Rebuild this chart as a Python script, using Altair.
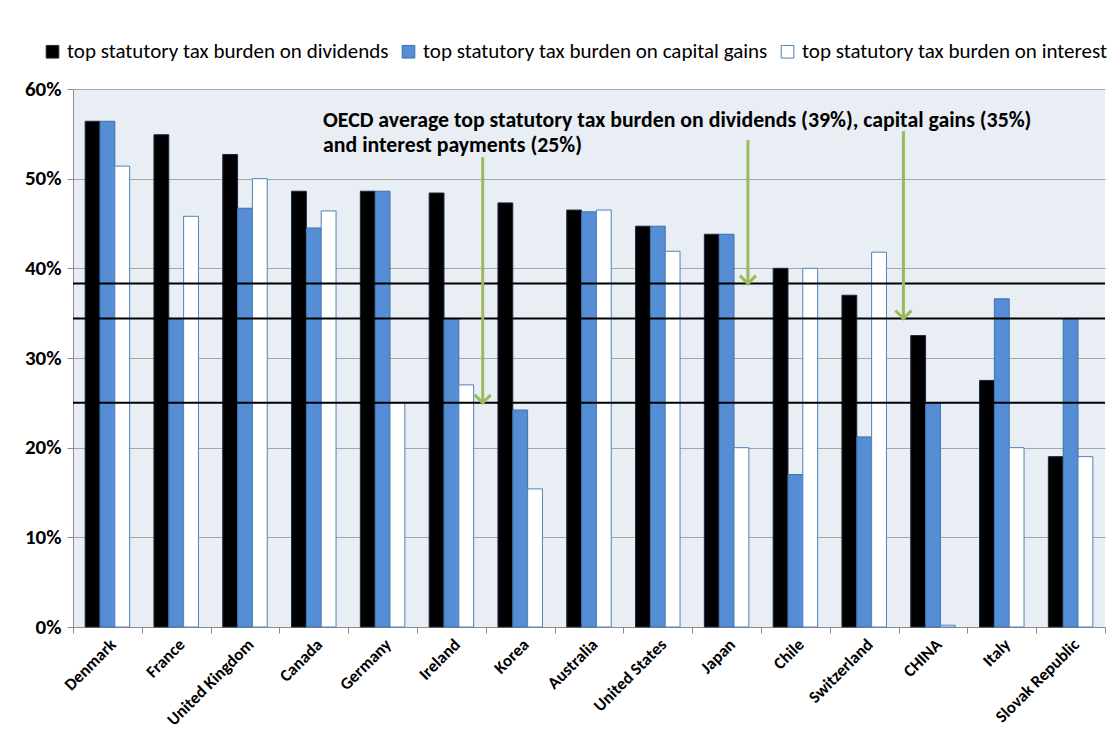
import altair as alt
import pandas as pd

countries = ["Denmark", "France", "United Kingdom", "Canada", "Germany", "Ireland", "Korea",
             "Australia", "United States", "Japan", "Chile", "Switzerland", "CHINA", "Italy",
             "Slovak Republic"]
dividends = [56.4, 54.9, 52.7, 48.6, 48.6, 48.4, 47.3, 46.5, 44.7, 43.8, 40.0, 37.0, 32.5, 27.5, 19.0]
capital_gains = [56.4, 34.4, 46.7, 44.5, 48.6, 34.4, 24.2, 46.3, 44.7, 43.8, 17.0, 21.2, 25.0, 36.6, 34.4]
interest = [51.4, 45.8, 50.0, 46.4, 25.0, 27.0, 15.4, 46.5, 41.9, 20.0, 40.0, 41.8, 0.2, 20.0, 19.0]

series_names = ["top statutory tax burden on dividends",
                "top statutory tax burden on capital gains",
                "top statutory tax burden on interest"]
fills = ["#000000", "#558ED5", "#FFFFFF"]
strokes = ["#1a2a40", "#3F6FAA", "#4F81BD"]

oecd_avg = [38.3, 34.4, 25.0]

arrow_x = [5.955, 9.81, 12.07]
arrow_top = [52.4, 54.3, 55.3]
arrow_tip = [25.0, 38.3, 34.4]

note_lines = ["OECD average top statutory tax burden on dividends (39%), capital gains (35%)",
              "and interest payments (25%)"]
note_x = [3.635, 3.635]
note_y = [55.8, 53.0]

rows = []
for i, c in enumerate(countries):
    for s, vals in zip(series_names, [dividends, capital_gains, interest]):
        rows.append({"country": c, "series": s, "value": vals[i] / 100})
bars_df = pd.DataFrame(rows)
avg_df = pd.DataFrame({"value": [v / 100 for v in oecd_avg]})
arrow_df = pd.DataFrame({"ax": arrow_x, "value": [v / 100 for v in arrow_top],
                         "tip": [v / 100 for v in arrow_tip]})
note_df = pd.DataFrame({"nx": note_x, "value": [v / 100 for v in note_y], "line": note_lines})

FONT = "Carlito, Calibri, Lato, sans-serif"
GREEN = "#9BBB59"
y_scale = alt.Scale(domain=[0, 0.6], nice=False)
qx_scale = alt.Scale(domain=[0, 15], nice=False, zero=False)

legend = alt.Legend(title=None, orient="none", legendX=-31, legendY=-48, direction="horizontal",
                    symbolType="square", symbolSize=160, symbolStrokeWidth=1,
                    labelFont=FONT, labelFontSize=21, labelColor="black", labelLimit=0,
                    columnPadding=9, labelOffset=4)

bars = alt.Chart(bars_df).mark_bar(strokeWidth=1).encode(
    x=alt.X("country:N", sort=countries, title=None,
            scale=alt.Scale(paddingInner=0, paddingOuter=0),
            axis=alt.Axis(labelAngle=-45, labelFont=FONT, labelFontSize=17, labelFontWeight="bold",
                          labelColor="black", tickBand="extent", tickSize=6, tickColor="#8c8c8c",
                          domainColor="#8c8c8c", labelPadding=3)),
    xOffset=alt.XOffset("series:N", sort=series_names,
                        scale=alt.Scale(paddingOuter=0.82, paddingInner=0)),
    y=alt.Y("value:Q", scale=y_scale, title=None,
            axis=alt.Axis(format=".0%", values=[0, 0.1, 0.2, 0.3, 0.4, 0.5, 0.6],
                          labelFont=FONT, labelFontSize=21, labelFontWeight="bold",
                          labelColor="black", tickSize=6, tickColor="#8c8c8c",
                          domainColor="#8c8c8c", gridColor="#A6A6A6", labelPadding=6)),
    fill=alt.Fill("series:N", sort=series_names,
                  scale=alt.Scale(domain=series_names, range=fills), legend=legend),
    stroke=alt.Stroke("series:N", sort=series_names,
                      scale=alt.Scale(domain=series_names, range=strokes), legend=legend),
)

avg_lines = alt.Chart(avg_df).mark_rule(color="black", strokeWidth=2).encode(
    y=alt.Y("value:Q", scale=y_scale, title=None)
)

arrows = alt.Chart(arrow_df).mark_rule(color=GREEN, strokeWidth=3).encode(
    x=alt.X("ax:Q", scale=qx_scale, axis=None),
    y=alt.Y("value:Q", scale=y_scale, title=None),
    y2="tip:Q",
)
heads = alt.Chart(arrow_df).mark_point(shape="M-1,-1L0,0L1,-1", filled=False, color=GREEN,
                                       strokeWidth=3, size=256, opacity=1).encode(
    x=alt.X("ax:Q", scale=qx_scale, axis=None),
    y=alt.Y("tip:Q", scale=y_scale, title=None),
)
notes = alt.Chart(note_df).mark_text(align="left", baseline="alphabetic", font=FONT, fontSize=21.8,
                                     fontWeight="bold", color="black").encode(
    x=alt.X("nx:Q", scale=qx_scale, axis=None),
    y=alt.Y("value:Q", scale=y_scale, title=None),
    text="line:N",
)

annot = alt.layer(arrows, heads, notes)

chart = alt.layer(bars, avg_lines, annot).resolve_scale(x="independent").properties(
    width=1032, height=538,
    padding={"left": 16, "top": 33, "right": 0, "bottom": 5},
).configure_view(fill="#E9EDF4", strokeWidth=0)

chart.save("out.html", embed_options={"renderer": "svg", "actions": False})
